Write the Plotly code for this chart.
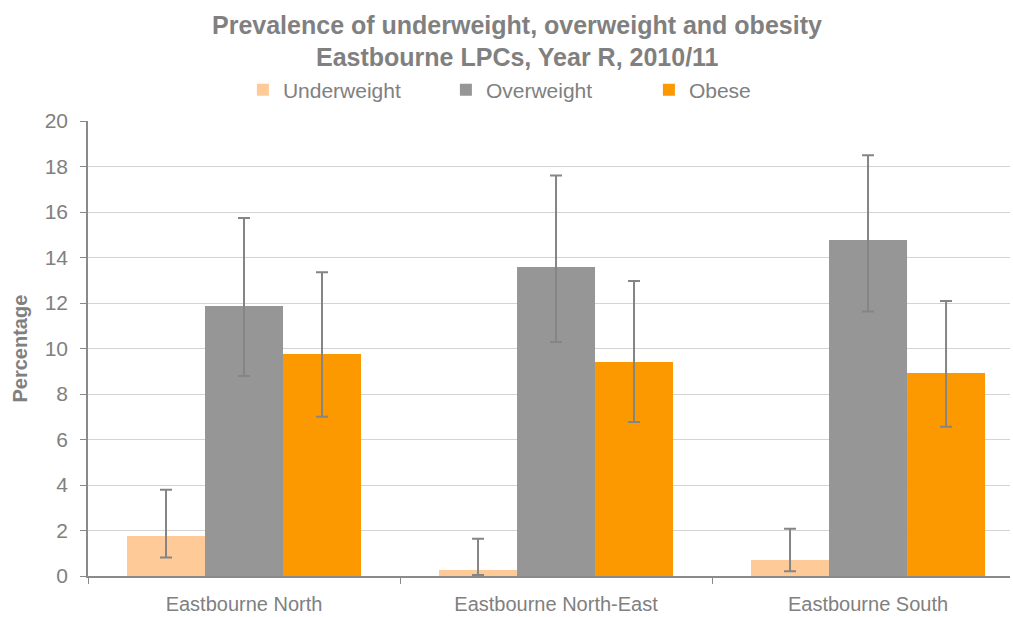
import plotly.graph_objects as go

# Local Planning Clusters (categories) and prevalence estimates (%)
areas = ["Eastbourne North", "Eastbourne North-East", "Eastbourne South"]

underweight = [1.76, 0.26, 0.70]
underweight_lo = [0.81, 0.04, 0.21]
underweight_hi = [3.79, 1.64, 2.08]

overweight = [11.87, 13.58, 14.77]
overweight_lo = [8.79, 10.29, 11.63]
overweight_hi = [15.74, 17.60, 18.50]

obese = [9.76, 9.41, 8.92]
obese_lo = [7.00, 6.77, 6.56]
obese_hi = [13.35, 12.97, 12.09]

y_ticks = [0, 2, 4, 6, 8, 10, 12, 14, 16, 18, 20]

GREY_TEXT = "#808080"
AXIS_LINE = "#8a8a8a"
FONT = "Liberation Sans, Arial, sans-serif"


def ci_bar(name, values, lo, hi, colour):
    return go.Bar(
        name=name,
        x=areas,
        y=values,
        marker=dict(color=colour, line=dict(width=0)),
        error_y=dict(
            type="data",
            symmetric=False,
            array=[h - v for h, v in zip(hi, values)],
            arrayminus=[v - l for v, l in zip(values, lo)],
            color="#858585",
            thickness=2,
            width=6,
        ),
    )


fig = go.Figure([
    ci_bar("Underweight", underweight, underweight_lo, underweight_hi, "#FECB98"),
    ci_bar("Overweight", overweight, overweight_lo, overweight_hi, "#969696"),
    ci_bar("Obese", obese, obese_lo, obese_hi, "#FC9900"),
])

fig.update_layout(
    width=1013,
    height=617,
    margin=dict(l=88, r=3, t=121, b=41, autoexpand=False),
    paper_bgcolor="white",
    plot_bgcolor="white",
    font=dict(family=FONT, color=GREY_TEXT, size=20),
    barmode="group",
    bargap=0.25,
    bargroupgap=0,
    showlegend=True,
    legend=dict(
        orientation="h",
        x=0.168,
        xanchor="left",
        y=1.068,
        yanchor="middle",
        font=dict(size=21, color=GREY_TEXT),
        entrywidth=158,
        entrywidthmode="pixels",
        itemclick=False,
        bgcolor="rgba(0,0,0,0)",
    ),
    annotations=[
        dict(text="<b>Prevalence of underweight, overweight and obesity</b>",
             x=0.4653, y=1.211, xref="paper", yref="paper",
             xanchor="center", yanchor="middle", showarrow=False,
             font=dict(size=25, color=GREY_TEXT, family=FONT)),
        dict(text="<b>Eastbourne LPCs, Year R, 2010/11</b>",
             x=0.4653, y=1.140, xref="paper", yref="paper",
             xanchor="center", yanchor="middle", showarrow=False,
             font=dict(size=25, color=GREY_TEXT, family=FONT)),
        dict(text="<b>Percentage</b>", textangle=-90,
             x=-0.0748, y=0.5, xref="paper", yref="paper",
             xanchor="center", yanchor="middle", showarrow=False,
             font=dict(size=20, color=GREY_TEXT, family=FONT)),
    ],
)

fig.update_xaxes(
    type="category",
    range=[-0.5, 2.455],
    showline=True,
    linecolor=AXIS_LINE,
    linewidth=1.5,
    ticks="outside",
    tickson="boundaries",
    ticklen=6,
    tickcolor=AXIS_LINE,
    showgrid=False,
    tickfont=dict(size=20, color=GREY_TEXT),
    ticklabelstandoff=9,
)

fig.update_yaxes(
    range=[0, 20],
    tickvals=y_ticks,
    showline=True,
    linecolor=AXIS_LINE,
    linewidth=1.5,
    ticks="outside",
    ticklen=6,
    tickcolor=AXIS_LINE,
    showgrid=True,
    gridcolor="#d4d4d4",
    gridwidth=1.2,
    zeroline=False,
    tickfont=dict(size=21, color=GREY_TEXT),
    ticklabelstandoff=8,
)

fig.write_html("out.html")
